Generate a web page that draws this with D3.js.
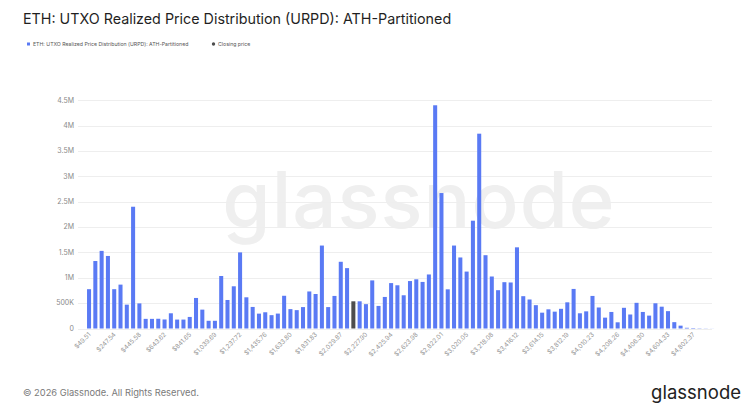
<!DOCTYPE html>
<html>
<head>
<meta charset="utf-8">
<script src="https://cdn.jsdelivr.net/npm/d3@7"></script>
<style>
  html, body { margin: 0; padding: 0; background: #fff; }
  svg { display: block; font-family: Inter, "Noto Sans", sans-serif; }
</style>
</head>
<body>
<svg id="chart" width="750" height="416"></svg>
<script>
// ---- Data ----
const title = "ETH: UTXO Realized Price Distribution (URPD): ATH-Partitioned";
const seriesName = "ETH: UTXO Realized Price Distribution (URPD): ATH-Partitioned";
const closingName = "Closing price";
// Supply (ETH) held in each realized-price bucket (100 buckets)
const supplyValues = [
  775000, 1330000, 1530000, 1430000, 775000, 865000, 470000, 2400000, 495000, 190000,
  190000, 192000, 178000, 300000, 176000, 176000, 228000, 602000, 372000, 152000,
  152000, 1035000, 562000, 832000, 1500000, 615000, 425000, 293000, 320000, 263000,
  294000, 645000, 382000, 362000, 422000, 730000, 680000, 1635000, 422000, 642000,
  1315000, 1190000, 536000, 536000, 480000, 948000, 445000, 622000, 895000, 852000,
  655000, 935000, 970000, 918000, 1065000, 4400000, 2670000, 772000, 1635000, 1400000,
  1122000, 2125000, 3840000, 1445000, 1025000, 755000, 913000, 907000, 1600000, 637000,
  572000, 460000, 312000, 378000, 332000, 388000, 516000, 780000, 300000, 338000,
  642000, 414000, 214000, 326000, 122000, 408000, 276000, 506000, 326000, 254000,
  497000, 430000, 342000, 125000, 56000, 14000, 9000, 5000, 3000, 1500
];
// bucket that contains the closing price
const closingBucket = 42;
// x tick labels (every 4th bucket)
const xTickLabels = [
  "$49.51", "$247.54", "$445.58", "$643.62", "$841.65", "$1,039.69", "$1,237.72",
  "$1,435.76", "$1,633.80", "$1,831.83", "$2,029.87", "$2,227.90", "$2,425.94",
  "$2,623.98", "$2,822.01", "$3,020.05", "$3,218.08", "$3,416.12", "$3,614.15",
  "$3,812.19", "$4,010.23", "$4,208.26", "$4,406.30", "$4,604.33", "$4,802.37"
];
const xTickStep = 4;
const yTicks = [0, 500000, 1000000, 1500000, 2000000, 2500000, 3000000, 3500000, 4000000, 4500000];
const yTickLabels = ["0", "500K", "1M", "1.5M", "2M", "2.5M", "3M", "3.5M", "4M", "4.5M"];

// ---- Layout ----
const svg = d3.select("#chart");
const barColor = "#5a7af4";
const closeColor = "#4d4d4d";

const buckets = d3.range(supplyValues.length);
const x = d3.scaleBand().domain(buckets).range([85.9, 715.2]).paddingInner(0.36).paddingOuter(0.18);
const y = d3.scaleLinear().domain([0, 4500000]).range([328.5, 100.2]);

// watermark
svg.append("text")
  .attr("x", 419).attr("y", 228)
  .attr("text-anchor", "middle")
  .attr("font-size", 78)
  .attr("font-weight", 500)
  .attr("letter-spacing", 1)
  .attr("fill", "#efefef")
  .text("glassnode");

// title
svg.append("text")
  .attr("x", 23).attr("y", 23.5)
  .attr("font-size", 14.3)
  .attr("fill", "#1f1f1f")
  .text(title);

// legend
const lg = svg.append("g");
lg.append("rect").attr("x", 27).attr("y", 42.5).attr("width", 3).attr("height", 3).attr("fill", barColor);
lg.append("text").attr("x", 33).attr("y", 46).attr("font-size", 5.2).attr("fill", "#555").text(seriesName);
lg.append("circle").attr("cx", 213.5).attr("cy", 44).attr("r", 1.7).attr("fill", closeColor);
lg.append("text").attr("x", 218).attr("y", 46).attr("font-size", 5.2).attr("fill", "#555").text(closingName);

// gridlines
svg.append("g").selectAll("line").data(yTicks).join("line")
  .attr("x1", 78).attr("x2", 712)
  .attr("y1", d => Math.round(y(d)) + 0.5).attr("y2", d => Math.round(y(d)) + 0.5)
  .attr("stroke", "#eeeeee").attr("stroke-width", 1);

// y axis labels
svg.append("g").selectAll("text").data(yTicks).join("text")
  .attr("x", 74).attr("y", d => y(d) + 2.3)
  .attr("text-anchor", "end")
  .attr("font-size", 7)
  .attr("fill", "#8a8a8a")
  .text((d, i) => yTickLabels[i]);

// bars
svg.append("g").selectAll("rect").data(supplyValues).join("rect")
  .attr("x", (d, i) => x(i))
  .attr("width", x.bandwidth())
  .attr("y", d => y(d))
  .attr("height", d => y(0) - y(d))
  .attr("fill", (d, i) => i === closingBucket ? closeColor : barColor);

// x axis labels
const xl = svg.append("g");
xTickLabels.forEach((lab, k) => {
  const i = k * xTickStep;
  const cx = x(i) + x.bandwidth() / 2;
  xl.append("text")
    .attr("transform", `translate(${cx + 2},${335}) rotate(-45)`)
    .attr("text-anchor", "end")
    .attr("font-size", 6.3)
    .attr("fill", "#959595")
    .text(lab);
});

// footer
svg.append("text")
  .attr("x", 23).attr("y", 396)
  .attr("font-size", 9.3)
  .attr("fill", "#7a7a7a")
  .text("© 2026 Glassnode. All Rights Reserved.");
svg.append("text")
  .attr("x", 741).attr("y", 399)
  .attr("text-anchor", "end")
  .attr("font-size", 18.5)
  .attr("fill", "#222")
  .text("glassnode");
</script>
</body>
</html>
